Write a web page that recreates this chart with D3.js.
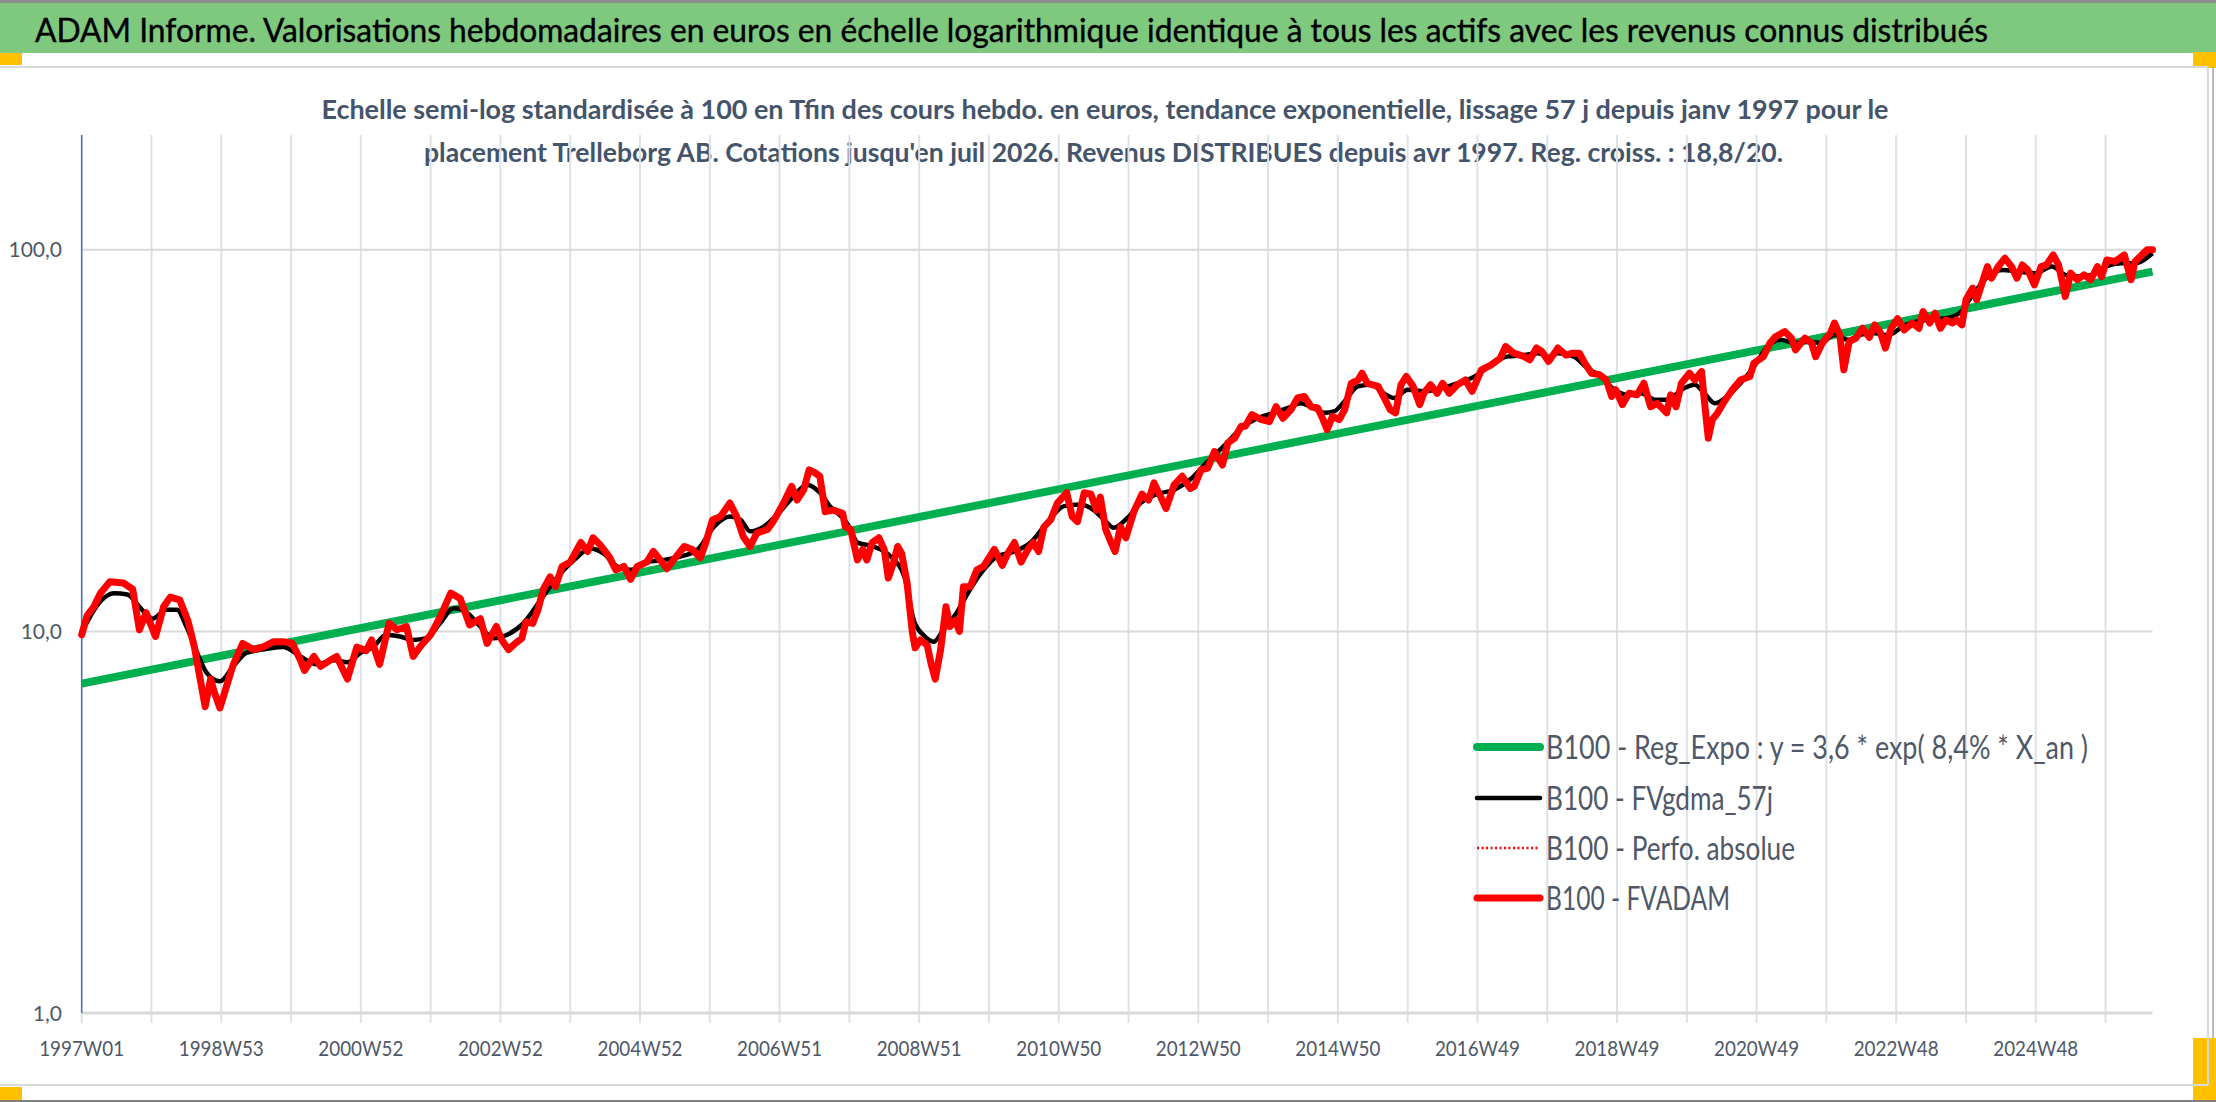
<!DOCTYPE html>
<html><head><meta charset="utf-8">
<script src="https://cdn.jsdelivr.net/npm/d3@7"></script>
<style>
html,body{margin:0;padding:0;background:#fff;}
svg{display:block;}
text{font-family:Lato,"Open Sans",sans-serif;}
</style></head>
<body>
<svg id="chart" width="2216" height="1102"></svg>
<script>
// ---------------- DATA ----------------
const titleText = "ADAM Informe. Valorisations hebdomadaires en euros en échelle logarithmique identique à tous les actifs avec les revenus connus distribués";
const subtitleLines = [
  "Echelle semi-log standardisée à 100 en Tfin des cours hebdo. en euros, tendance exponentielle, lissage 57 j depuis janv 1997 pour le",
  "placement Trelleborg AB. Cotations jusqu'en juil 2026. Revenus DISTRIBUES depuis avr 1997. Reg. croiss. : 18,8/20."
];
const seriesNames = [
  "B100 - Reg_Expo : y = 3,6 * exp( 8,4% *  X_an )",
  "B100 - FVgdma_57j",
  "B100 - Perfo. absolue",
  "B100 - FVADAM"
];
// weekly categories, index 0 = 1997W01, last index = 2026W31
const lastWeekIndex = 1543;
const weeksPerGrid = 52;
const tickLabels = ["1997W01","1998W53","2000W52","2002W52","2004W52","2006W51","2008W51","2010W50","2012W50","2014W50","2016W49","2018W49","2020W49","2022W48","2024W48"];
const weeksPerLabel = 104;
const yTickValues = [1, 10, 100];
const yTickLabels = ["1,0", "10,0", "100,0"];

// regression (exponential) – values read at first and last week
const regWeeks = [0, 1543];
const regValues = [7.3, 87.7];

// FVADAM (red) – sampled weeks and values
const adamWeeks = [0,4,9,14,21,31,38,43,48,55,61,66,73,79,84,88,92,96,99,103,108,113,120,128,135,143,150,157,163,166,173,178,185,190,198,205,212,216,222,229,235,242,247,252,260,267,275,282,289,297,302,
309,313,318,323,328,331,336,340,344,349,353,358,364,372,377,381,386,393,398,404,409,414,421,426,431,436,441,449,455,461,465,470,476,483,488,493,498,503,511,516,523,529,533,538,542,546,550,554,560,567,
569,573,578,582,585,589,594,598,601,605,608,611,615,619,621,625,630,633,636,640,644,647,651,654,657,662,667,672,680,686,690,695,700,705,709,713,717,722,727,734,738,742,747,752,756,759,763,767,770,774,778,784,790,795,799,804,808,814,820,826,
829,834,839,844,850,854,859,864,867,872,879,885,890,895,901,906,911,916,921,925,928,932,937,941,946,951,954,958,966,970,975,979,983,987,992,997,1000,1005,1010,1014,1019,1025,1031,1036,1043,1050,1057,1061,1067,1075,1079,1084,1088,1093,
1100,1106,1111,1116,1120,1125,1131,1136,1140,1143,1148,1153,1159,1164,1169,1174,1181,1184,1188,1192,1198,1202,1207,1209,1212,1215,1219,1224,1230,1236,1243,1246,1253,1258,1262,1269,1274,1277,1284,1289,1292,1297,1303,1306,1310,1313,1317,1322,1327,
1332,1336,1340,1344,1348,1353,1358,1364,1369,1372,1377,1381,1385,1389,1394,1397,1401,1404,1409,1412,1416,1420,1423,1428,1433,1438,1442,1446,1450,1455,1460,1464,1469,1473,1476,1478,1482,1487,1492,1497,1502,1505,1509,1515,1522,1527,1530,1535,1539,1543];
const adamValues = [9.8,11.0,11.6,12.6,13.5,13.4,12.9,10.1,11.2,9.7,11.6,12.3,12.1,10.7,9.1,7.6,6.35,7.5,6.9,6.3,7.2,8.2,9.3,8.96,9.1,9.4,9.4,9.3,8.4,7.9,8.6,8.1,8.4,8.6,7.5,9.1,8.9,9.5,8.2,10.5,10.1,10.3,8.6,9.1,9.8,10.9,12.6,12.2,10.4,10.8,9.3,
10.3,9.5,8.96,9.3,9.6,10.6,10.5,11.4,12.9,13.9,13.1,14.8,15.2,17.1,16.2,17.6,16.9,15.7,14.5,14.8,13.7,14.8,15.2,16.2,15.4,14.6,15.4,16.7,16.4,15.6,17.1,19.6,20.0,21.7,20.0,17.7,16.7,18.1,18.5,19.6,21.7,24.0,22.1,23.5,26.5,26.1,25.5,20.6,20.8,20.4,
18.8,18.5,15.4,16.4,15.4,17.1,17.6,16.4,13.8,15.2,16.7,16.0,13.4,9.9,9.06,9.5,9.2,8.2,7.5,8.96,11.6,10.3,10.7,10.0,13.1,13.1,14.5,14.8,16.4,14.9,16.0,17.1,15.2,16.4,17.1,16.2,18.8,19.6,21.7,23.1,20.0,19.4,23.1,22.9,20.8,22.5,18.5,17.1,16.2,18.8,17.6,20.6,22.9,22.1,24.5,22.5,21.0,24.2,25.5,23.7,
24.0,26.5,26.8,29.6,27.3,31.2,32.1,34.5,34.5,37.0,35.9,35.5,38.8,36.2,38.1,40.9,41.3,38.8,38.5,35.9,33.8,36.6,35.9,38.1,44.7,45.6,47.5,44.7,43.9,41.3,38.1,37.4,44.3,46.6,43.9,39.3,42.1,44.3,42.1,44.7,42.1,44.3,45.6,42.6,48.5,49.9,52.0,55.8,53.6,52.5,51.5,55.3,54.2,51.0,
55.3,53.0,53.6,53.6,50.5,47.5,47.1,45.6,41.3,43.0,39.3,42.1,41.7,44.7,38.8,39.6,37.4,41.7,38.8,44.7,47.5,45.6,48.0,40.5,32.1,35.9,37.4,40.1,43.0,45.6,46.6,50.5,52.5,57.0,59.2,61.1,58.7,54.7,58.7,57.0,52.5,57.0,60.5,64.3,59.9,48.5,57.5,58.7,62.3,
59.0,63.6,61.0,55.3,62.0,66.0,61.7,64.3,62.3,68.9,64.3,68.2,62.3,65.5,64.3,65.5,63.6,74.0,79.4,74.0,81.8,90.4,84.3,90.4,95.1,90.4,84.3,91.3,88.6,81.0,90.4,91.3,97.0,91.3,81.8,75.5,86.9,83.5,86.0,83.5,90.4,85.1,94.1,93.2,97.0,83.5,93.2,97.0,100,100];

// FVgdma_57j (black smoothed) – sampled weeks and values
const gdmaWeeks = [1,14,24,34,44,53,63,71,78,86,93,103,113,123,138,150,163,175,188,198,208,217,227,237,247,257,267,277,287,297,307,317,329,342,354,367,379,389,399,409,421,434,446,459,471,483,491,498,508,518,528,541,550,558,566,572,578,590,603,613,620,627,635,642,652,662,672,682,695,707,719,732,744,754,762,769,779,789,801,814,826,839,851,864,876,888,901,908,916,926,933,941,951,961,970,978,988,1000,1013,1025,1038,1050,1062,1075,1085,1093,1100,1112,1122,1132,1142,1152,1162,1172,1182,1192,1202,1209,1217,1226,1236,1246,1256,1266,1276,1286,1296,1306,1316,1326,1336,1346,1359,1374,1389,1399,1409,1418,1431,1443,1456,1468,1478,1488,1498,1508,1520,1530,1543];
const gdmaValues = [10.1,12.0,12.6,12.5,11.5,10.8,11.4,11.4,10.3,8.8,7.8,7.4,8.1,8.8,9.0,9.1,8.6,8.2,8.4,8.3,8.8,9.1,9.8,9.7,9.5,9.6,10.5,11.5,11.2,10.3,9.6,9.8,10.5,12.1,13.8,15.4,16.5,16.0,14.8,14.5,15.2,15.4,15.7,16.4,18.8,20.0,19.6,18.3,18.8,20.2,22.1,24.2,23.1,21.2,20.0,18.8,17.1,16.7,15.7,13.9,10.7,9.8,9.4,10.1,11.2,12.9,14.5,15.7,16.2,17.1,19.2,21.3,21.5,20.8,19.6,18.7,19.8,21.7,22.9,23.5,25.0,27.9,30.6,34.1,36.2,37.4,38.8,39.6,38.8,37.4,37.7,40.1,43.9,44.3,42.1,40.9,43.0,42.6,43.4,44.7,46.6,49.9,52.5,53.0,53.6,52.5,53.6,52.5,48.9,46.6,43.0,41.7,42.1,40.5,40.5,43.0,44.3,42.1,39.6,41.3,44.7,49.4,55.8,58.1,57.0,57.5,57.0,59.9,58.1,60.0,60.5,59.8,63.6,65.5,66.2,68.2,76.2,83.5,88.6,87.7,86.9,90.4,86.0,85.1,86.0,90.4,92.3,92.3,98.0];

// ---------------- DRAW ----------------
const svg = d3.select("#chart");
const W = 2216, H = 1102;
const plot = {left: 81.7, right: 2152.5, top: 135, bottom: 1013};

const x = d3.scaleLinear().domain([0, lastWeekIndex]).range([plot.left, plot.right]);
const y = d3.scaleLog().domain([1, 200]).range([plot.bottom, plot.top]);

const zip = (ws, vs) => ws.map((w, i) => ({w, v: vs[i]}));
const regData = zip(regWeeks, regValues);
const adamData = zip(adamWeeks, adamValues);
const gdmaData = zip(gdmaWeeks, gdmaValues);

// frame
svg.append("rect").attr("x",0).attr("y",0).attr("width",W).attr("height",H).attr("fill","#fff");
svg.append("rect").attr("x",0).attr("y",0).attr("width",W).attr("height",3).attr("fill","#8c8c8c");
svg.append("rect").attr("x",0).attr("y",3).attr("width",W).attr("height",50).attr("fill","#7fc97f");
svg.append("text").attr("x",35).attr("y",42).attr("font-size",33).attr("fill","#000")
  .attr("stroke","#000").attr("stroke-width",0.4)
  .attr("textLength",1953).attr("lengthAdjust","spacingAndGlyphs").text(titleText);

const orange = "#ffc000";
svg.append("rect").attr("x",0).attr("y",53).attr("width",22).attr("height",12).attr("fill",orange);
svg.append("rect").attr("x",2193).attr("y",52).attr("width",23).attr("height",16).attr("fill",orange);
svg.append("rect").attr("x",0).attr("y",1087).attr("width",22).attr("height",13).attr("fill",orange);
svg.append("rect").attr("x",2193).attr("y",1038).attr("width",23).attr("height",62).attr("fill",orange);

// chart area border
svg.append("line").attr("x1",0).attr("x2",2208).attr("y1",67).attr("y2",67).attr("stroke","#d9d9d9").attr("stroke-width",2);
svg.append("line").attr("x1",0).attr("x2",2208).attr("y1",1085).attr("y2",1085).attr("stroke","#d9d9d9").attr("stroke-width",2);
svg.append("line").attr("x1",2208).attr("x2",2208).attr("y1",67).attr("y2",1085).attr("stroke","#d9d9d9").attr("stroke-width",2);
svg.append("line").attr("x1",2213).attr("x2",2213).attr("y1",67).attr("y2",1038).attr("stroke","#a6a6a6").attr("stroke-width",1.5);
svg.append("rect").attr("x",0).attr("y",1100).attr("width",W).attr("height",2).attr("fill","#7f7f7f");

// subtitle
const subX = [321.5, 424], subLen = [1567, 1359], subY = [119, 161.5];
subtitleLines.forEach((t,i)=>{
  svg.append("text").attr("x",subX[i]).attr("y",subY[i]).attr("font-size",26).attr("font-weight",700)
    .attr("fill","#44546a").attr("textLength",subLen[i]).attr("lengthAdjust","spacingAndGlyphs").text(t);
});

// vertical gridlines
const gridWeeks = d3.range(0, lastWeekIndex + 1, weeksPerGrid);
svg.append("g").selectAll("line").data(gridWeeks).join("line")
  .attr("x1", d => x(d)).attr("x2", d => x(d))
  .attr("y1", plot.top).attr("y2", plot.bottom + 10)
  .attr("stroke", "#dde2e8").attr("stroke-width", 2);

// horizontal gridlines
svg.append("g").selectAll("line").data(yTickValues).join("line")
  .attr("x1", plot.left).attr("x2", plot.right)
  .attr("y1", d => y(d)).attr("y2", d => y(d))
  .attr("stroke", "#d9d9d9").attr("stroke-width", d => d === 1 ? 3 : 2);

// y axis line
svg.append("line").attr("x1",plot.left).attr("x2",plot.left).attr("y1",plot.top).attr("y2",plot.bottom)
  .attr("stroke","#4472c4").attr("stroke-width",1.5);

// y tick labels
svg.append("g").selectAll("text").data(yTickValues).join("text")
  .attr("x", 62).attr("y", d => y(d) + 7.5)
  .attr("text-anchor","end").attr("font-size",21).attr("fill","#4f5868")
  .text((d,i) => yTickLabels[i]);

// x tick labels
svg.append("g").selectAll("text").data(tickLabels).join("text")
  .attr("x", (d,i) => x(i * weeksPerLabel)).attr("y", 1056)
  .attr("text-anchor","middle").attr("font-size",22).attr("fill","#4f5868")
  .attr("textLength",85).attr("lengthAdjust","spacingAndGlyphs")
  .text(d => d);

// series
const line = d3.line().x(d => x(d.w)).y(d => y(d.v));
const smooth = d3.line().x(d => x(d.w)).y(d => y(d.v)).curve(d3.curveMonotoneX);

svg.append("path").datum(regData).attr("d", line).attr("fill","none")
  .attr("stroke","#00b050").attr("stroke-width",8);
svg.append("path").datum(gdmaData).attr("d", smooth).attr("fill","none")
  .attr("stroke","#000").attr("stroke-width",4.5).attr("stroke-linejoin","round");
svg.append("path").datum(adamData).attr("d", line).attr("fill","none")
  .attr("stroke","#ff0000").attr("stroke-width",2).attr("stroke-dasharray","2,3");
svg.append("path").datum(adamData).attr("d", line).attr("fill","none")
  .attr("stroke","#ff0000").attr("stroke-width",7).attr("stroke-linejoin","round").attr("stroke-linecap","round");

// legend
const legY = [747, 798, 848, 898];
const legLen = [542, 227, 249, 184];
const legStyles = [
  {c:"#00b050", w:8, dash:null},
  {c:"#000000", w:4.5, dash:null},
  {c:"#ff0000", w:2.5, dash:"2,2.5"},
  {c:"#ff0000", w:7, dash:null}
];
const leg = svg.append("g");
seriesNames.forEach((name, i) => {
  const s = legStyles[i];
  leg.append("line").attr("x1",1477).attr("x2",1540).attr("y1",legY[i]).attr("y2",legY[i])
    .attr("stroke",s.c).attr("stroke-width",s.w).attr("stroke-dasharray",s.dash)
    .attr("stroke-linecap", s.dash ? "butt" : "round");
  leg.append("text").attr("x",1546).attr("y",legY[i] + 12).attr("font-size",33).attr("fill","#4f5868")
    .attr("textLength",legLen[i]).attr("lengthAdjust","spacingAndGlyphs").text(name);
});
</script>
</body></html>
